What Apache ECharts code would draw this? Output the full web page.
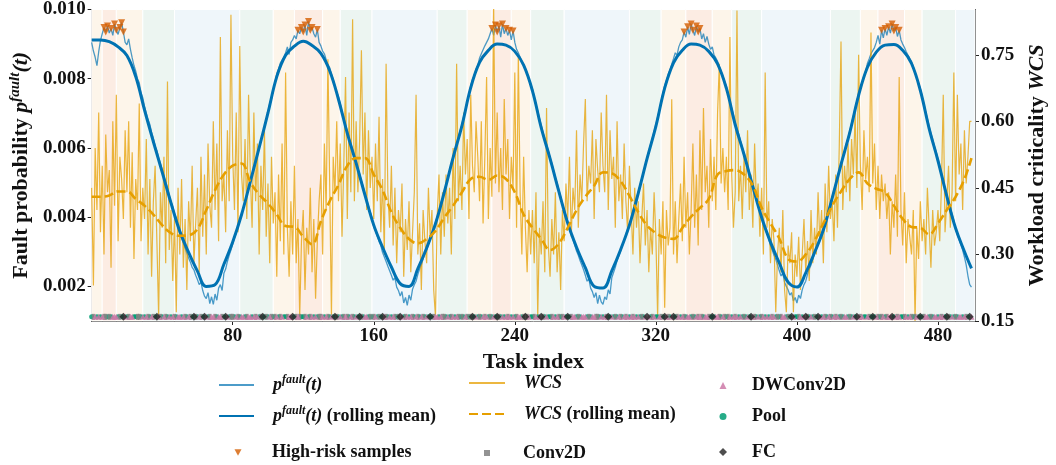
<!DOCTYPE html>
<html>
<head>
<meta charset="utf-8">
<script src="https://cdn.jsdelivr.net/npm/echarts@6/dist/echarts.min.js"></script>
<style>
  html, body { margin: 0; padding: 0; background: #fff; }
  #chart { width: 1056px; height: 465px; }
</style>
</head>
<body>
<div id="chart"></div>
<script>
// raw fault probability per task, stored as p * 1e5 (task 0..499)
const pFaultE5 = [
  905,880,862,838,878, 910,930,948,935,952, 932,945,925,958,940, 928,948,962,935,905,
  898,915,885,860,838, 822,800,788,760,745, 720,700,682,668,645, 628,605,592,572,555,
  538,518,500,485,462, 445,430,410,398,372, 352,340,325,310,296, 282,270,255,248,232,
  220,205,212,188,172, 165,182,150,170,148, 178,160,195,205,188, 238,250,272,290,305,
  322,340,355,372,388, 405,428,440,466,480, 500,525,538,560,578, 598,624,640,658,680,
  705,728,742,770,790, 815,828,845,840,862, 875,892,870,905,912, 925,915,940,930,948,
  935,955,925,965,940, 948,930,920,942,905, 895,880,872,855,840, 832,812,798,778,762,
  748,728,705,690,665, 650,630,612,596,578, 560,540,525,505,488, 468,450,432,415,398,
  372,360,345,330,318, 298,285,272,258,245, 232,218,225,198,188, 172,185,152,168,145,
  175,160,192,205,215, 235,250,262,280,295, 305,322,335,350,368, 385,402,415,440,455,
  475,495,510,535,555, 575,595,612,630,650, 668,692,712,735,755, 780,798,810,828,838,
  860,872,868,895,905, 915,930,945,925,955, 935,952,920,958,930, 945,925,940,912,938,
  905,885,875,862,850, 845,830,815,800,785, 770,748,725,708,685, 665,645,628,610,592,
  572,555,535,515,498, 478,460,440,422,405, 380,365,350,335,320, 302,290,275,262,248,
  232,215,222,195,185, 168,182,150,175,155, 148,170,162,190,178, 225,240,255,275,288,
  302,318,332,350,365, 380,398,418,435,455, 472,492,512,530,552, 572,590,610,628,648,
  668,690,710,735,758, 780,795,812,825,842, 858,875,868,892,905, 912,935,920,950,928,
  958,940,925,952,935, 945,915,930,905,922, 900,885,892,868,860, 850,835,822,808,792,
  778,758,735,715,695, 672,655,640,620,602, 585,568,548,530,512, 492,475,455,438,420,
  398,382,368,352,338, 318,305,290,278,262, 245,230,238,212,200, 190,175,182,158,168,
  152,175,165,190,205, 215,235,250,262,280, 295,308,322,338,352, 368,385,402,420,440,
  458,478,496,518,536, 555,575,592,612,630, 650,672,692,715,735, 758,775,790,808,822,
  845,858,872,868,890, 905,925,900,940,918, 945,925,950,932,958, 938,948,922,940,912,
  900,890,878,868,858, 850,835,818,802,788, 772,750,728,705,685, 662,642,625,605,588,
  568,548,528,505,485, 465,445,428,408,390, 365,350,335,320,305, 285,262,230,205,198
];

// raw workload criticality per task, stored as WCS * 100
const wcsPct = [
  45,23,54,40,62,35,50,30,57,44, 49,27,60,41,66,33,52,47,38,58,
  44,60,36,53,29,47,40,64,33,45, 38,56,30,47,25,42,50,33,16,44,
  36,52,28,69,31,40,24,38,17,45, 30,47,27,38,22,42,33,50,28,37,
  45,26,52,34,48,30,55,41,36,60, 40,55,33,79,42,48,35,58,42,84,
  52,40,62,35,77,48,42,56,38,66, 48,36,62,42,55,30,50,40,58,34,
  46,28,52,37,44,25,48,33,55,30, 71,36,25,42,30,50,28,38,16,33,
  40,22,36,30,45,26,38,20,33,42, 48,30,55,40,74,46,16,52,44,60,
  42,55,34,50,70,38,62,44,83,42, 60,44,56,76,48,62,40,58,45,52,
  38,55,42,61,35,47,30,73,44,36, 50,32,45,28,40,35,46,25,38,31,
  42,26,35,44,66,30,37,22,40,33, 28,45,34,40,22,16,39,48,30,44,
  34,48,37,45,30,54,38,73,42,50, 40,62,48,56,38,66,50,44,60,52,
  42,60,37,52,70,38,54,43,86,46, 62,44,54,40,65,48,56,38,52,45,
  71,36,75,44,30,52,36,26,40,30, 40,28,44,16,36,30,42,26,63,32,
  25,38,30,44,26,35,22,40,33,46, 38,52,34,45,40,58,36,48,42,55,
  65,42,50,46,58,38,56,49,44,62, 50,44,66,40,58,47,52,36,60,42,
  48,38,55,42,35,50,40,30,45,36, 42,28,38,46,32,40,26,36,30,44,
  34,16,38,30,42,18,40,32,36,65, 30,42,28,38,46,33,52,36,44,30,
  40,55,36,48,32,58,40,63,44,50, 36,56,42,52,40,62,73,46,54,44,
  52,40,79,48,36,44,85,42,50,38, 52,44,58,40,48,36,55,42,46,34,
  45,30,71,36,42,28,38,33,17,30, 36,26,40,22,17,32,28,35,17,30,
  25,34,22,30,38,26,33,24,40,28, 36,30,44,33,40,28,46,35,50,38,
  42,33,48,36,54,78,40,50,44,55, 42,56,48,62,45,75,50,40,58,47,
  52,44,80,46,55,40,50,38,48,42, 46,38,44,30,42,36,48,34,70,40,
  32,44,28,38,34,30,40,15,36,29, 42,33,38,30,45,36,27,40,32,35,
  40,33,46,66,35,42,50,36,44,71, 42,66,48,55,40,58,46,52,60,60
];

// rolling means, sampled every 5 tasks plus the last task
const meanTasks = Array.from({ length: 100 }, (_, i) => i * 5).concat([499]);
const pMean = [
  0.00912,0.00912,0.00907,0.00892,0.00867,0.00806,0.00709,0.00618,0.00530,0.00441,0.00359,0.00298,0.00244,0.00200,
  0.00205,0.00264,0.00328,0.00407,0.00503,0.00601,0.00701,0.00806,0.00868,0.00894,0.00908,
  0.00896,0.00873,0.00823,0.00740,0.00642,0.00556,0.00464,0.00377,0.00313,0.00256,0.00208,
  0.00200,0.00251,0.00311,0.00381,0.00472,0.00572,0.00664,0.00774,0.00847,0.00882,0.00900,
  0.00897,0.00879,0.00839,0.00765,0.00658,0.00569,0.00474,0.00383,0.00313,0.00254,0.00200,
  0.00195,0.00245,0.00306,0.00377,0.00469,0.00569,0.00662,0.00773,0.00846,0.00882,0.00900,
  0.00897,0.00879,0.00843,0.00772,0.00667,0.00581,0.00488,0.00399,0.00328,0.00268,0.00212,
  0.00198,0.00239,0.00298,0.00363,0.00455,0.00552,0.00645,0.00752,0.00833,0.00877,0.00897,
  0.00899,0.00882,0.00844,0.00766,0.00656,0.00563,0.00461,0.00368,0.00301,0.00252
];
const wcsMean = [
  0.430,0.430,0.433,0.442,0.442,0.425,0.410,0.390,0.366,0.348,0.342,0.343,0.357,0.400,
  0.445,0.480,0.500,0.505,0.463,0.435,0.415,0.390,0.364,0.362,0.340,
  0.323,0.375,0.420,0.457,0.500,0.517,0.517,0.480,0.445,0.395,0.360,
  0.335,0.325,0.335,0.353,0.383,0.410,0.440,0.470,0.475,0.468,0.478,
  0.470,0.440,0.390,0.360,0.335,0.310,0.325,0.360,0.400,0.430,0.455,
  0.485,0.483,0.465,0.432,0.395,0.365,0.348,0.338,0.335,0.360,0.385,
  0.405,0.425,0.480,0.488,0.490,0.480,0.455,0.405,0.370,0.336,0.290,
  0.284,0.300,0.330,0.370,0.410,0.442,0.470,0.485,0.460,0.448,0.440,
  0.410,0.380,0.362,0.360,0.345,0.370,0.400,0.430,0.470,0.517
];

// layer type of every task: C=Conv2D, D=DWConv2D, P=Pool, F=FC
const layerSeq = [
  'PCDPDPDCCP','CPDDDPCPFD','PCDDPPCCPD','PDCPDCPFDC','PDCPDPDCPD',
  'DPDCPDCPFC','PDCPFDPCDD','CPDDCPFDPC','CPDCPDDPCD','DPDCDPCFPC',
  'PDCPCDPCDP','PCDDFPCDCP','PCDPCDPDPC','CDPDCPDPFC','PDPCDCPDCP',
  'DPFCPDDPCP','CDPCPFDCPD','PDCPCFDPCD','PDCPDCPDCP','DPFPCDDPDC',
  'CPDPCDPDCP','CPDCPCFPDP','CPDCDPCPDP','FCPDPDCDPD','PCDDPCFCDP',
  'PCDPDFCPDP','PCDPDCPCDP','FPCDDPCPDD','DPCPDDCCPD','PDCFPDPCPD',
  'CPDCDPDCDP','DPCPDFDPCD','PPDCPFDCPD','FPCDPDCPDD','PCPDCDCPDD',
  'CPFPDDCPDC','PCDPDCDPDP','CPDPFDCPDP','CDPDPDCDPC','PCDDPCPFDP',
  'PCDPDFCPDP','CPFDPDCPDC','PDCDPCPDDP','CPDPFDCDPP','DCPFPDCPCD',
  'PCDDFPDCDP','PCDPDCPCDP','FPCDDPCPDD','PDCDPFCPDP','CPDDPDCPFD'
].join('');

// shaded task ranges: [start, end, risk level]
const bands = [
  [0, 6, 'high'], [6, 14, 'peak'], [14, 29, 'high'], [29, 47, 'mid'], [47, 84, 'low'], [84, 103, 'mid'],
  [103, 115, 'high'], [115, 131, 'peak'], [131, 141, 'high'], [141, 159, 'mid'], [159, 196, 'low'], [196, 213, 'mid'],
  [213, 227, 'high'], [227, 238, 'peak'], [238, 249, 'high'], [249, 268, 'mid'], [268, 305, 'low'], [305, 323, 'mid'],
  [323, 337, 'high'], [337, 352, 'peak'], [352, 363, 'high'], [363, 380, 'mid'], [380, 419, 'low'], [419, 436, 'mid'],
  [436, 446, 'high'], [446, 461, 'peak'], [461, 471, 'high'], [471, 490, 'mid'], [490, 501, 'low']
];

const xTicks = [80, 160, 240, 320, 400, 480];
const pTicks = [0.002, 0.004, 0.006, 0.008, 0.010];
const wcsTicks = [0.15, 0.30, 0.45, 0.60, 0.75];
const riskThreshold = 0.00935;

const FONT = "'Liberation Serif', 'Times New Roman', serif";
const bandColors = { high: '#fdf5ea', peak: '#fcece3', mid: '#ecf5f1', low: '#eff6fa' };
const stripLevel = 0.00112;

const pFault = pFaultE5.map((v, i) => [i, v / 1e5]);
const wcs = wcsPct.map((v, i) => [i, v / 100]);
const pMeanData = pMean.map((v, i) => [meanTasks[i], v]);
const wcsMeanData = wcsMean.map((v, i) => [meanTasks[i], v]);
const highRisk = pFault.filter(d => d[1] >= riskThreshold);

function layerPoints (code) {
  const out = [];
  for (let i = 0; i < layerSeq.length; i++) {
    if (layerSeq[i] === code) out.push([i, stripLevel]);
  }
  return out;
}

const rich = {
  b: { fontFamily: FONT, fontWeight: 'bold', fontSize: 18, color: '#111', lineHeight: 22 },
  i: { fontFamily: FONT, fontWeight: 'bold', fontStyle: 'italic', fontSize: 18, color: '#111', lineHeight: 22 },
  s: { fontFamily: FONT, fontWeight: 'bold', fontStyle: 'italic', fontSize: 12, color: '#111', lineHeight: 12, verticalAlign: 'top' }
};
const legendText = {
  pf: '{i|p}{s|fault}{i|(t)}',
  pfm: '{i|p}{s|fault}{i|(t)}{b| (rolling mean)}',
  hr: '{b|High-risk samples}',
  wcs: '{i|WCS}',
  wcsm: '{i|WCS}{b| (rolling mean)}',
  Conv2D: '{b|Conv2D}',
  DWConv2D: '{b|DWConv2D}',
  Pool: '{b|Pool}',
  FC: '{b|FC}'
};

// line entries: hide the legend symbol, keep the stroke
function lineLegend (name, left, cy, w) {
  return {
    data: [name], left: left, top: cy - 9, padding: 0,
    itemWidth: w, itemHeight: 14, selectedMode: false,
    itemStyle: { opacity: 0 },
    formatter: n => legendText[n],
    textStyle: { rich: rich, padding: [0, 0, 0, 14] }
  };
}
// marker entries: square icon box centred on (cx, cy), text starting at textX
function markLegend (name, cx, cy, size, textX) {
  const left = cx - size / 2;
  return {
    data: [name], left: left, top: cy - size / 2 - 3, padding: 0,
    itemWidth: size, itemHeight: size, selectedMode: false,
    formatter: n => legendText[n],
    textStyle: { rich: rich, padding: [0, 0, 0, textX - (left + size + 5)] }
  };
}

const tickFont = { fontFamily: FONT, fontWeight: 'bold', fontSize: 19, color: '#111' };
const titleRich = {
  b: { fontFamily: FONT, fontWeight: 'bold', fontSize: 22, color: '#111', lineHeight: 26 },
  i: { fontFamily: FONT, fontWeight: 'bold', fontStyle: 'italic', fontSize: 22, color: '#111', lineHeight: 26 },
  s: { fontFamily: FONT, fontWeight: 'bold', fontStyle: 'italic', fontSize: 15, color: '#111', lineHeight: 14, verticalAlign: 'top' }
};

const chart = echarts.init(document.getElementById('chart'), null, { renderer: 'canvas' });

const option = {
  animation: false,
  grid: { left: 88, right: 68, top: 6, bottom: 144 },
  legend: [
    lineLegend('pf', 218, 383, 35),
    lineLegend('pfm', 218, 414, 35),
    markLegend('hr', 238, 450, 7, 272),
    lineLegend('wcs', 468, 383, 36),
    lineLegend('wcsm', 468, 414, 36),
    markLegend('Conv2D', 487, 450, 6, 523),
    markLegend('DWConv2D', 723, 383, 7, 752),
    markLegend('Pool', 723, 414, 7, 752),
    markLegend('FC', 723, 450, 8, 752)
  ],
  xAxis: {
    type: 'value',
    min: 0,
    max: 501,
    name: 'Task index',
    nameLocation: 'middle',
    nameGap: 24,
    nameTextStyle: { fontFamily: FONT, fontWeight: 'bold', fontSize: 22, color: '#111' },
    axisLine: { show: true, lineStyle: { color: '#222', width: 1 } },
    axisTick: { show: true, customValues: xTicks, length: 4, lineStyle: { color: '#222' } },
    axisLabel: Object.assign({ customValues: xTicks, margin: 6 }, tickFont),
    splitLine: { show: true, lineStyle: { color: '#dcdcdc', width: 1 } }
  },
  yAxis: [
    {
      type: 'value',
      min: 0.001,
      max: 0.010,
      position: 'left',
      name: '{b|Fault probability }{i|p}{s|fault}{i|(t)}',
      nameLocation: 'middle',
      nameRotate: 90,
      nameGap: 56,
      nameTextStyle: { rich: titleRich },
      axisLine: { show: true, lineStyle: { color: '#222', width: 1 } },
      axisTick: { show: true, customValues: pTicks, length: 4, lineStyle: { color: '#222' } },
      axisLabel: Object.assign({ customValues: pTicks, margin: 6, formatter: v => v.toFixed(3) }, tickFont),
      splitLine: { show: true, lineStyle: { color: '#dcdcdc', width: 1 } }
    },
    {
      type: 'value',
      min: 0.15,
      max: 0.852,
      position: 'right',
      name: '{b|Workload criticality }{i|WCS}',
      nameLocation: 'middle',
      nameRotate: 90,
      nameGap: 49,
      nameTextStyle: { rich: titleRich },
      axisLine: { show: true, lineStyle: { color: '#222', width: 1 } },
      axisTick: { show: true, customValues: wcsTicks, length: 4, lineStyle: { color: '#222' } },
      axisLabel: Object.assign({ customValues: wcsTicks, margin: 6, formatter: v => v.toFixed(2) }, tickFont),
      splitLine: { show: false }
    }
  ],
  series: [
    {
      name: 'bands',
      type: 'line',
      data: [],
      z: 0,
      silent: true,
      markArea: {
        silent: true,
        data: bands.map(b => [
          { xAxis: b[0], itemStyle: { color: bandColors[b[2]], borderColor: '#ffffff', borderWidth: 1 } },
          { xAxis: b[1] }
        ])
      }
    },
    {
      name: 'pf',
      type: 'line',
      data: pFault,
      symbol: 'none',
      z: 2,
      color: '#0072B2',
      lineStyle: { width: 1.3, color: '#0072B2', opacity: 0.7 }
    },
    {
      name: 'wcs',
      type: 'line',
      yAxisIndex: 1,
      data: wcs,
      symbol: 'none',
      z: 3,
      color: '#E69F00',
      lineStyle: { width: 1.2, color: '#E69F00', opacity: 0.75 }
    },
    {
      name: 'pfm',
      type: 'line',
      data: pMeanData,
      symbol: 'none',
      smooth: 0.4,
      z: 4,
      color: '#0072B2',
      lineStyle: { width: 3, color: '#0072B2' }
    },
    {
      name: 'wcsm',
      type: 'line',
      yAxisIndex: 1,
      data: wcsMeanData,
      symbol: 'none',
      smooth: 0.4,
      z: 5,
      color: '#E69F00',
      lineStyle: { width: 2.6, color: '#E69F00', type: [9, 4] }
    },
    {
      name: 'hr',
      type: 'scatter',
      data: highRisk,
      symbol: 'path://M0,0 L10,0 L5,9 Z',
      symbolSize: 7,
      z: 7,
      itemStyle: { color: '#D55E00' }
    },
    {
      name: 'Pool',
      type: 'scatter',
      data: layerPoints('P'),
      symbol: 'circle',
      symbolSize: 5,
      z: 6,
      itemStyle: { color: '#009E73', opacity: 0.85 }
    },
    {
      name: 'Conv2D',
      type: 'scatter',
      data: layerPoints('C'),
      symbol: 'rect',
      symbolSize: [3, 6],
      z: 6,
      itemStyle: { color: '#808080', opacity: 0.85 }
    },
    {
      name: 'DWConv2D',
      type: 'scatter',
      data: layerPoints('D'),
      symbol: 'triangle',
      symbolSize: 6,
      z: 6,
      itemStyle: { color: '#CC79A7', opacity: 0.85 }
    },
    {
      name: 'FC',
      type: 'scatter',
      data: layerPoints('F'),
      symbol: 'diamond',
      symbolSize: 8,
      z: 7,
      itemStyle: { color: '#222222' }
    }
  ]
};

chart.setOption(option);
</script>
</body>
</html>
